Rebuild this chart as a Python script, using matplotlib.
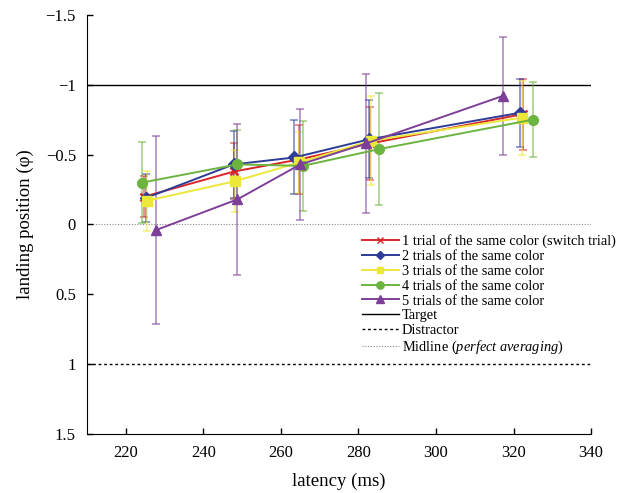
import matplotlib
matplotlib.use('Agg')
import matplotlib.pyplot as plt
from matplotlib.lines import Line2D

plt.rcParams['font.family'] = ['Liberation Serif', 'DejaVu Serif']
plt.rcParams['mathtext.fontset'] = 'custom'
plt.rcParams['mathtext.rm'] = 'Liberation Serif'
plt.rcParams['mathtext.it'] = 'Liberation Serif:italic'

labels = ['1 trial of the same color (switch trial)',
          '2 trials of the same color',
          '3 trials of the same color',
          '4 trials of the same color',
          '5 trials of the same color']

# mean latency (ms) per condition and quantile
lat1 = [224.8, 248.0, 264.6, 283.0, 322.4]
lat2 = [225.2, 247.8, 263.5, 282.8, 321.7]
lat3 = [225.5, 248.2, 264.8, 283.3, 322.1]
lat4 = [224.2, 248.7, 265.7, 285.4, 324.9]
lat5 = [227.8, 248.8, 265.0, 282.0, 317.2]

# landing position (phi) and error
pos1 = [-0.20, -0.38, -0.465, -0.58, -0.79]
pos2 = [-0.19, -0.43, -0.48, -0.61, -0.80]
pos3 = [-0.17, -0.31, -0.445, -0.60, -0.765]
pos4 = [-0.30, -0.43, -0.42, -0.54, -0.75]
pos5 = [0.04, -0.18, -0.43, -0.58, -0.92]

err1 = [0.145, 0.20, 0.25, 0.26, 0.255]
err2 = [0.17, 0.24, 0.265, 0.28, 0.245]
err3 = [0.215, 0.22, 0.22, 0.32, 0.265]
err4 = [0.29, 0.245, 0.32, 0.40, 0.27]
err5 = [0.675, 0.54, 0.40, 0.50, 0.42]

lats = [lat1, lat2, lat3, lat4, lat5]
poss = [pos1, pos2, pos3, pos4, pos5]
errs = [err1, err2, err3, err4, err5]
colors = ['#d8262b', '#2c3c97', '#ece83a', '#6cb33f', '#7d3f98']
markers = ['x', 'D', 's', 'o', '^']
msizes = [6, 6, 6.5, 7, 7.5]

fig = plt.figure(figsize=(6.32, 4.93), dpi=100)
ax = fig.add_axes([0.1377, 0.1197, 0.7975, 0.8499])

ax.axhline(-1, color='black', lw=1.0, zorder=1)
ax.axhline(1, color='black', lw=1.0, ls=(0, (2, 2)), zorder=1)
ax.axhline(0, color='#888888', lw=0.8, ls=(0, (1, 1.5)), zorder=1)

for x, y, e, c, m, ms in zip(lats, poss, errs, colors, markers, msizes):
    ax.errorbar(x, y, yerr=e, fmt='none', ecolor=c, alpha=0.6,
                elinewidth=1.2, capsize=3, capthick=1.2, zorder=2)
    ax.plot(x, y, color=c, lw=1.4, marker=m, ms=ms, mew=1.8 if m == 'x' else 1,
            zorder=3)

ax.set_xlim(210, 340)
ax.set_ylim(1.5, -1.5)
ax.set_xticks([220, 240, 260, 280, 300, 320, 340])
ax.set_yticks([-1.5, -1, -0.5, 0, 0.5, 1, 1.5])
ax.set_yticklabels(['\u22121.5', '\u22121', '\u22120.5', '0', '0.5', '1', '1.5'])
ax.tick_params(direction='in', labelsize=12, length=4, width=1)
ax.tick_params(axis='x', pad=8)
ax.tick_params(axis='y', pad=8)
ax.spines['top'].set_visible(False)
ax.spines['right'].set_visible(False)
ax.set_xlabel('latency (ms)', fontsize=13.5, labelpad=8)
ax.set_ylabel('landing position (\u03c6)', fontsize=13.5, labelpad=8)

handles = [Line2D([], [], color=c, marker=m, ms=ms * 0.75, lw=1.4)
           for c, m, ms in zip(colors, markers, msizes)]
handles += [Line2D([], [], color='black', lw=1.0),
            Line2D([], [], color='black', lw=1.0, ls=(0, (2, 2))),
            Line2D([], [], color='#888888', lw=0.8, ls=(0, (1, 1.5)))]
names = labels + ['Target', 'Distractor', 'Midline ($\\it{perfect\\ averaging}$)']
fig.legend(handles, names, loc='upper left', bbox_to_anchor=(0.572, 0.525),
           frameon=False, fontsize=10.4, handlelength=2.6, handletextpad=0.2,
           labelspacing=0.12, borderpad=0, borderaxespad=0)

fig.savefig('out.png', dpi=100)
